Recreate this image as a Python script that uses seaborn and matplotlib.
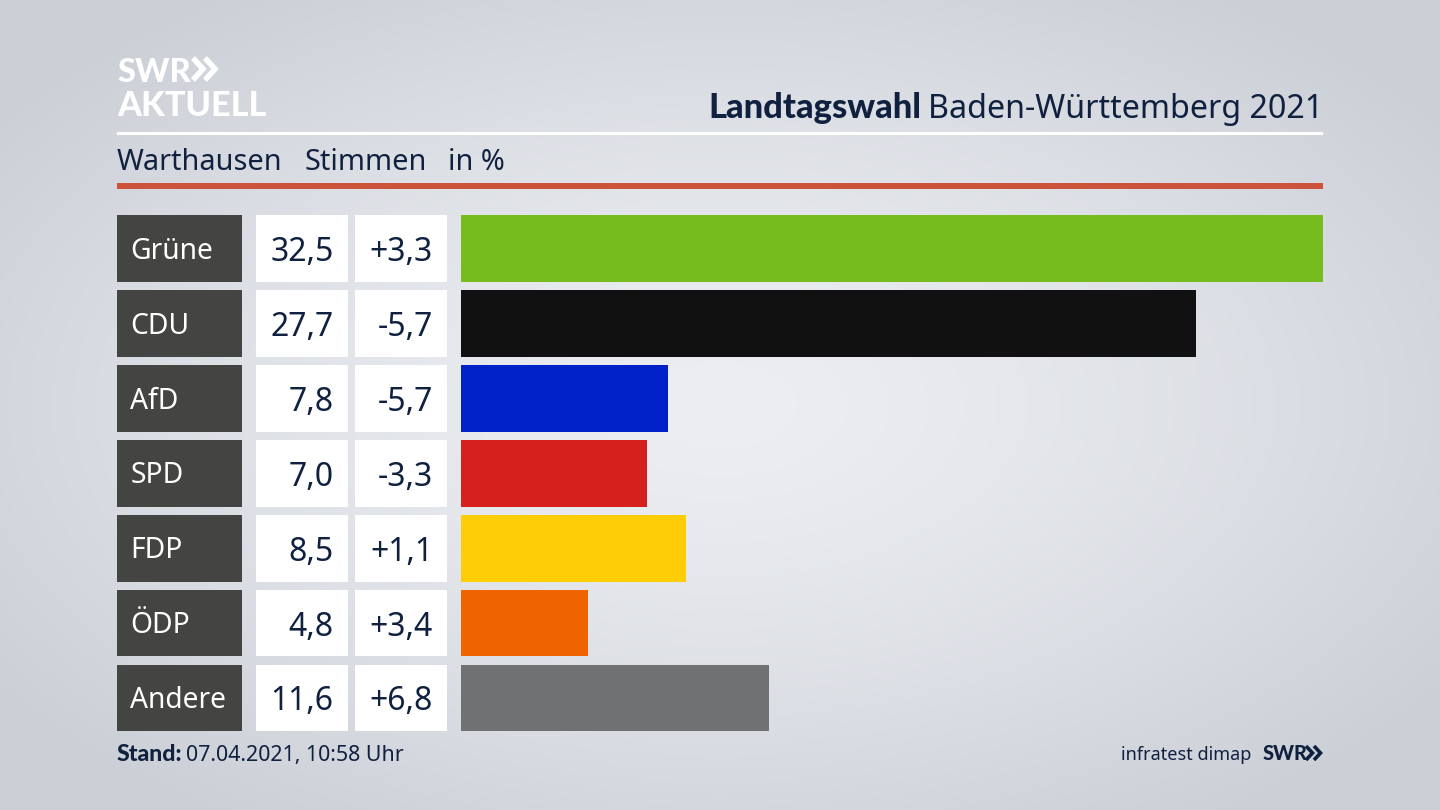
import numpy as np
import pandas as pd
import matplotlib
matplotlib.use("Agg")
import matplotlib.pyplot as plt
from matplotlib.patches import Rectangle
from matplotlib.transforms import blended_transform_factory
import seaborn as sns

parties = ["Grüne", "CDU", "AfD", "SPD", "FDP", "ÖDP", "Andere"]
shares = [32.5, 27.7, 7.8, 7.0, 8.5, 4.8, 11.6]
share_labels = ["32,5", "27,7", "7,8", "7,0", "8,5", "4,8", "11,6"]
change_labels = ["+3,3", "-5,7", "-5,7", "-3,3", "+1,1", "+3,4", "+6,8"]
colors = ["#77BC1F", "#111111", "#0020C8", "#D5201E", "#FFCC08", "#F06400", "#707173"]

W, H = 1440, 810
NAVY = "#10203F"
FONT = "Noto Sans"
BOLD = "Lato"

sns.set_theme(style="white")
plt.rcParams["font.family"] = [FONT, "DejaVu Sans"]
fig = plt.figure(figsize=(W / 100, H / 100), dpi=100)

# background
bg = fig.add_axes([0, 0, 1, 1], zorder=0)
yy, xx = np.mgrid[0:H, 0:W]
r = np.sqrt(((xx - W * 0.5) / (W * 0.62)) ** 2 + ((yy - H * 0.5) / (H * 0.62)) ** 2)
r = np.clip(r, 0, 1) ** 1.4
c0 = np.array([0xEC, 0xEE, 0xF2]) / 255
c1 = np.array([0xCB, 0xCF, 0xD6]) / 255
bg.imshow(c0 + (c1 - c0) * r[..., None], extent=[0, W, H, 0], aspect="auto", interpolation="bilinear")
bg.set_xlim(0, W)
bg.set_ylim(H, 0)
bg.axis("off")

# bar axes
L, R, T, B = 461, 1323, 211.2, 735.4
ax = fig.add_axes([L / W, 1 - B / H, (R - L) / W, (B - T) / H], zorder=2)
df = pd.DataFrame({"party": parties, "share": shares})
sns.barplot(data=df, x="share", y="party", hue="party", palette=colors, dodge=False,
            legend=False, width=0.89, saturation=1, linewidth=0, edgecolor="none", ax=ax)
ax.set_xlim(0, max(shares))
ax.set_ylim(len(parties) - 0.5, -0.5)
ax.axis("off")
ax.patch.set_alpha(0)

# overlay in pixel coordinates
ov = fig.add_axes([0, 0, 1, 1], zorder=3)
ov.set_xlim(0, W)
ov.set_ylim(H, 0)
ov.axis("off")
ov.patch.set_alpha(0)

ov.add_patch(Rectangle((117, 132), 1206, 3, color="white", lw=0))
ov.add_patch(Rectangle((117, 183), 1206, 6, color="#CC5339", lw=0))

# table cells aligned to the bar rows
tr = blended_transform_factory(ov.transData, ax.transData)
bh = 0.89
for i, p in enumerate(parties):
    ov.add_patch(Rectangle((117, i - bh / 2), 124.5, bh, transform=tr, color="#444442", lw=0))
    ov.add_patch(Rectangle((255.5, i - bh / 2), 92.5, bh, transform=tr, color="white", lw=0))
    ov.add_patch(Rectangle((354.5, i - bh / 2), 92.5, bh, transform=tr, color="white", lw=0))
    ov.text(130.5, i - 0.012, p, transform=tr, color="white", fontsize=20.3, va="center_baseline", ha="left")
    ov.text(333.5, i, share_labels[i], transform=tr, color=NAVY, fontsize=23, va="center_baseline", ha="right")
    ov.text(433, i, change_labels[i], transform=tr, color=NAVY, fontsize=23, va="center_baseline", ha="right")

# title
ov.text(1323, 118, "Baden-Württemberg 2021", color=NAVY, fontsize=23.2, ha="right", va="baseline")
ov.text(921, 118, "Landtagswahl", color=NAVY, fontsize=24.8, fontweight="black", family=BOLD,
        ha="right", va="baseline")

# subtitle
ov.text(117, 170, "Warthausen", color=NAVY, fontsize=20.8, va="baseline")
ov.text(304, 170, "Stimmen", color=NAVY, fontsize=20.8, va="baseline")
ov.text(448, 170, "in %", color=NAVY, fontsize=20.8, va="baseline")

# footer
ov.text(117, 761, "Stand:", color=NAVY, fontsize=16.6, fontweight="black", family=BOLD, va="baseline")
ov.text(186, 761, "07.04.2021, 10:58 Uhr", color=NAVY, fontsize=15.4, va="baseline")
ov.text(1251, 760, "infratest dimap", color=NAVY, fontsize=13, ha="right", va="baseline")
ov.text(1263, 760, "SWR", color=NAVY, fontsize=14.3, fontweight="black", family=BOLD, va="baseline")


def chevrons(x, y, h, w, gap, color, lw):
    for k in range(2):
        x0 = x + k * gap
        ov.plot([x0, x0 + w, x0], [y - h / 2, y, y + h / 2], color=color, lw=lw,
                solid_joinstyle="miter", solid_capstyle="butt")


chevrons(1306, 753, 14, 6.5, 8, NAVY, 2.6)

# logo
ov.text(117, 82, "SWR", color="white", fontsize=23.5, fontweight="black", family=BOLD, va="baseline")
chevrons(193, 69, 22, 10, 12, "white", 4)
ov.text(117, 116, "AKTUELL", color="white", fontsize=24.7, fontweight="black", family=BOLD, va="baseline")

fig.savefig("out.png", dpi=100)
